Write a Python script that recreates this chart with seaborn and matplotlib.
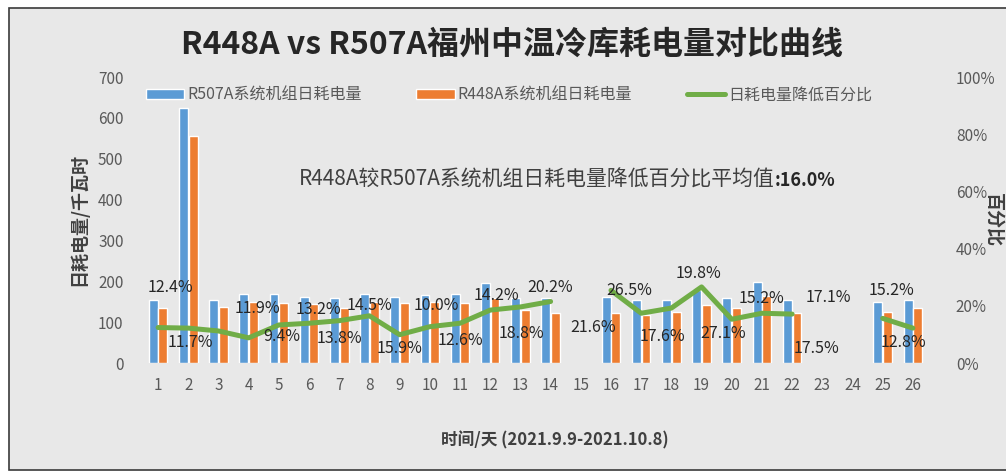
import numpy as np
import pandas as pd
import matplotlib
matplotlib.use("Agg")
import matplotlib.pyplot as plt
import seaborn as sns
from matplotlib.patches import Patch, Rectangle
from matplotlib.lines import Line2D
from matplotlib.ticker import PercentFormatter

# ---------------- data ----------------
days = [str(d) for d in range(1, 27)]
nan = np.nan
r507a = [154, 625, 154, 169, 170, 162, 158, 169, 162, 166, 169, 195, 160, 158, nan,
         162, 154, 154, 178, 158, 199, 154, nan, nan, 150, 154]
r448a = [134, 556, 138, 150, 147, 145, 134, 150, 146, 150, 146, 160, 130, 122, nan,
         122, 117, 125, 142, 134, 165, 122, nan, nan, 125, 134]
pct_drop = [12.4, 12.2, 11.2, 8.8, 13.3, 13.9, 14.8, 16.5, 9.9, 12.7, 13.9, 18.5, 19.6, 21.5, nan,
            25.4, 17.4, 19.2, 26.6, 15.3, 17.4, 17.1, nan, nan, 15.6, 12.2]
series_names = ["R507A系统机组日耗电量", "R448A系统机组日耗电量", "日耗电量降低百分比"]
label_texts = ["12.4%", "11.7%", "11.9%", "9.4%", "13.2%", "13.8%", "14.5%", "15.9%",
               "10.0%", "12.6%", "14.2%", "18.8%", "20.2%", "21.6%", "26.5%", "17.6%",
               "19.8%", "27.1%", "15.2%", "17.1%", "17.5%", "15.2%", "12.8%"]
# annotation anchor (day, percent) for each data label
label_pos = [(1.4, 26.5), (2.06, 7.3), (4.3, 19.2), (5.1, 9.1), (6.3, 18.8), (7.0, 8.7),
             (8.0, 20.2), (9.0, 5.2), (10.2, 20.2), (11.0, 8.0), (12.2, 23.7), (13.05, 10.4),
             (14.0, 26.5), (15.4, 12.5), (16.6, 25.4), (17.7, 9.1), (18.9, 31.4), (19.7, 10.4),
             (21.0, 22.6), (23.2, 23.0), (22.8, 5.2), (25.3, 25.4), (25.7, 7.3)]
title = "R448A vs R507A福州中温冷库耗电量对比曲线"
note_main = "R448A较R507A系统机组日耗电量降低百分比平均值"
note_bold = ":16.0%"
ylabel_left = "日耗电量/千瓦时"
ylabel_right = "百分比"
xlabel = "时间/天 (2021.9.9-2021.10.8)"

BLUE, ORANGE, GREEN = "#5B9BD5", "#ED7D31", "#70AD47"
TXT = "#595959"

sns.set_theme(style="white")
plt.rcParams["font.family"] = ["Noto Sans CJK SC", "DejaVu Sans"]

fig = plt.figure(figsize=(10.06, 4.76), dpi=100)
fig.patch.set_facecolor("white")
fig.add_artist(Rectangle((9 / 1006, 1 - 470 / 476), 1.0, 1 - 8 / 476 - (1 - 470 / 476),
                         transform=fig.transFigure, facecolor="#e8e8e8",
                         edgecolor="#3a3a3a", lw=1.2, zorder=-5))

ax = fig.add_axes([143 / 1006, 1 - 363 / 476, 785 / 1006, 286 / 476])
ax.set_facecolor("none")

df = pd.DataFrame({
    "day": days * 2,
    "series": [series_names[0]] * 26 + [series_names[1]] * 26,
    "value": r507a + r448a,
}).dropna()

sns.barplot(data=df, x="day", y="value", hue="series", order=days,
            hue_order=series_names[:2], palette=[BLUE, ORANGE],
            width=0.64, gap=0.08, saturation=1, legend=False, ax=ax)
ax.set_xlim(-0.5, 25.5)
ax.set_ylim(0, 700)
ax.set_yticks(range(0, 701, 100))
ax.set_xlabel("")
ax.set_ylabel("")
ax.tick_params(axis="y", length=0, labelsize=11, labelcolor=TXT, pad=14)
ax.tick_params(axis="x", length=0, labelsize=11, labelcolor=TXT, pad=10)
for s in ax.spines.values():
    s.set_visible(False)

ax2 = ax.twinx()
ax2.plot(np.arange(26), np.array(pct_drop) / 100, color=GREEN, lw=3.6,
         solid_capstyle="round", solid_joinstyle="round")
ax2.set_ylim(0, 1)
ax2.set_yticks(np.linspace(0, 1, 6))
ax2.yaxis.set_major_formatter(PercentFormatter(1.0, decimals=0))
ax2.tick_params(axis="y", length=0, labelsize=11, labelcolor=TXT, pad=20)
for s in ax2.spines.values():
    s.set_visible(False)

for t, (d, p) in zip(label_texts, label_pos):
    ax2.text(d - 1, p / 100, t, ha="center", va="center", fontsize=11.5, color="#262626")

fig.text(0.509, 1 - 45 / 476, title, ha="center", va="center", fontsize=23,
         fontweight="bold", color="#262626")
fig.text(775 / 1006, 1 - 180 / 476, note_main, ha="right", va="center", fontsize=15, color="#404040")
fig.text(775 / 1006, 1 - 180 / 476, note_bold, ha="left", va="center", fontsize=13,
         fontweight="bold", color="#262626")
fig.text(78 / 1006, 1 - 220 / 476, ylabel_left, rotation=90, ha="center", va="center",
         fontsize=13, fontweight="bold", color="#404040")
fig.text(1003 / 1006, 1 - 220 / 476, ylabel_right, rotation=270, ha="right", va="center",
         fontsize=13, fontweight="bold", color="#404040")
fig.text(0.552, 1 - 440 / 476, xlabel, ha="center", va="center", fontsize=12,
         fontweight="bold", color="#404040")

handles = [Patch(facecolor=BLUE), Patch(facecolor=ORANGE), Line2D([], [], color=GREEN, lw=3.6)]
leg = fig.legend(handles, series_names, loc="center left",
                 bbox_to_anchor=(146 / 1006, 1 - 95 / 476), ncol=3, frameon=False,
                 fontsize=11.5, handlelength=2.4, handleheight=0.6, handletextpad=0.2,
                 columnspacing=3.4, borderaxespad=0, borderpad=0)
for t in leg.get_texts():
    t.set_color(TXT)

fig.savefig("out.png", dpi=100)
